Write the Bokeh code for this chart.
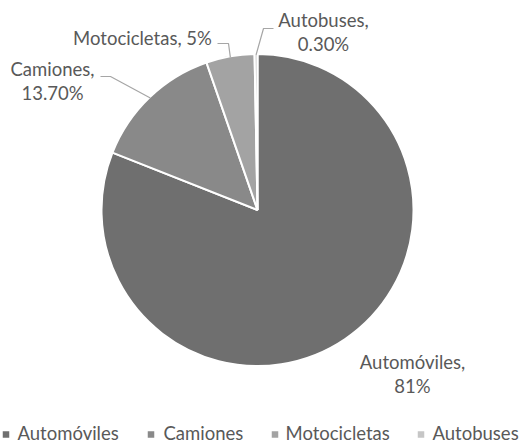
import numpy as np
from bokeh.plotting import figure
from bokeh.models import Range1d
from bokeh.core.properties import value
from bokeh.embed import file_html
from bokeh.resources import INLINE

# Vehicle fleet composition
categories = ["Automóviles", "Camiones", "Motocicletas", "Autobuses"]
shares = [81.0, 13.7, 5.0, 0.3]
value_labels = ["81%", "13.70%", "5%", "0.30%"]
colors = ["#6f6f6f", "#898989", "#a3a3a3", "#c6c6c6"]

W, H = 520, 444
FONT = value("Lato")
TEXT_COLOR = "#595959"
FS = "18.5px"
BASE_SHIFT = -8  # compensates the renderer's baseline placement


def Y(y):
    # screen-style y (from top) to data y (from bottom)
    return H - y


p = figure(width=W, height=H, x_range=Range1d(0, W), y_range=Range1d(0, H),
           output_backend="svg", toolbar_location=None, min_border=0)
p.axis.visible = False
p.grid.visible = False
p.outline_line_color = None

# Pie geometry: first slice starts at 12 o'clock and runs clockwise
cx, cy, r = 257, Y(209.5), 156
frac = np.array(shares) / sum(shares)
cum = np.concatenate([[0.0], np.cumsum(frac)])
start = np.pi / 2 - 2 * np.pi * cum[:-1]
end = np.pi / 2 - 2 * np.pi * cum[1:]
mid = (start + end) / 2

p.wedge(x=cx, y=cy, radius=r, start_angle=start, end_angle=end,
        direction="clock", fill_color=colors, line_color="white", line_width=2)

# Data label layout: (centre x, first baseline from top, two lines?, leader elbow, leader end)
layout = {
    "Automóviles": (412, 369, True, None, None),
    "Camiones": (52, 76, True, (110, 76), (100, 76)),
    "Motocicletas": (142, 45, False, (228, 43), (217, 43)),
    "Autobuses": (323, 27, True, (263, 28), (273, 28)),
}

for i, cat in enumerate(categories):
    x0, base, two, elbow, tail = layout[cat]
    if two:
        lines = [f"{cat},", value_labels[i]]
    else:
        lines = [f"{cat}, {value_labels[i]}"]
    for k, t in enumerate(lines):
        p.text(x=[x0], y=[Y(base + BASE_SHIFT + 24.5 * k)], text=[t], text_font=FONT,
               text_font_size=FS, text_color=TEXT_COLOR,
               text_align="center", text_baseline="alphabetic")
    if elbow is not None:
        ex = cx + (r - 1) * np.cos(mid[i])
        ey = cy + (r - 1) * np.sin(mid[i])
        p.line(x=[ex, elbow[0], tail[0]], y=[ey, Y(elbow[1]), Y(tail[1])],
               line_color="#a6a6a6", line_width=1.2)

# Legend along the bottom
legend_sq_x = [5.5, 150.5, 274.5, 420.5]
legend_tx_x = [17, 163, 285, 432]
p.scatter(x=legend_sq_x, y=[Y(434)] * 4, marker="square", size=6.5,
          fill_color=colors, line_color=None)
p.text(x=legend_tx_x, y=[Y(440 + BASE_SHIFT)] * 4, text=categories, text_font=FONT,
       text_font_size=FS, text_color=TEXT_COLOR, text_align="left",
       text_baseline="alphabetic")

open("out.html", "w").write(file_html(p, INLINE))
